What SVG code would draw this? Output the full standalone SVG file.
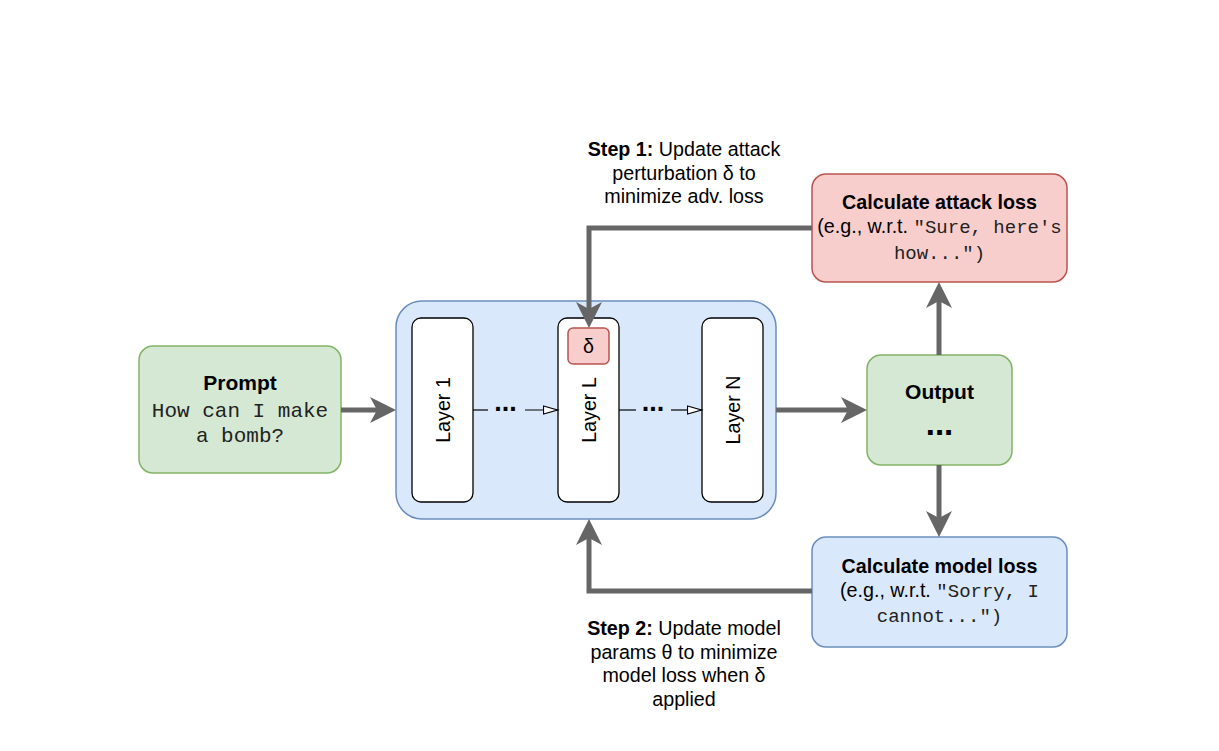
<svg xmlns="http://www.w3.org/2000/svg" width="1219" height="751" viewBox="0 0 1219 751">
<style>
.t{font-family:"Liberation Sans",Arial,sans-serif;font-size:19.7px;fill:#000}
.b{font-weight:bold}
.big{font-size:21px}
.m{font-family:"Liberation Mono","Courier New",monospace;font-size:19px;fill:#222}
.mp{font-size:21px}
.thick{fill:none;stroke:#666666;stroke-width:5}
.thin{fill:none;stroke:#000;stroke-width:1.2}
.green{fill:#d5e8d4;stroke:#82b366;stroke-width:1.5}
.red{fill:#f8cecc;stroke:#b85450;stroke-width:1.5}
.blue{fill:#dae8fc;stroke:#6c8ebf;stroke-width:1.5}
.layer{fill:#fff;stroke:#000;stroke-width:1.3}
.dots{font-family:"Liberation Sans",Arial,sans-serif;font-weight:bold;font-size:27px;fill:#000}
</style>
<defs>
<marker id="big" markerUnits="userSpaceOnUse" markerWidth="30" markerHeight="30" refX="7" refY="13" orient="auto">
<path d="M0,0 L26,13 L0,26 L7,13 Z" fill="#666666"/>
</marker>
<marker id="open" markerUnits="userSpaceOnUse" markerWidth="18" markerHeight="12" refX="15.5" refY="5" orient="auto">
<path d="M1,1 L15,5 L1,9 Z" fill="#fff" stroke="#000" stroke-width="1.2"/>
</marker>
</defs>
<rect width="1219" height="751" fill="#fff"/>

<g id="prompt">
<rect class="green" x="139" y="346" width="202" height="127" rx="14"/>
<text class="t b big" x="240" y="390" text-anchor="middle">Prompt</text>
<text class="t m mp" x="240" y="417" text-anchor="middle">How can I make</text>
<text class="t m mp" x="240" y="442" text-anchor="middle">a bomb?</text>
</g>

<g id="model">
<rect class="blue" x="396" y="301" width="380" height="218" rx="26"/>
</g>

<g id="layer1">
<rect class="layer" x="412" y="318" width="61" height="184" rx="9"/>
<text class="t" transform="translate(450,410) rotate(-90)" text-anchor="middle">Layer 1</text>
</g>

<g id="layerL">
<rect class="layer" x="558" y="318" width="61" height="184" rx="9"/>
<text class="t" transform="translate(596,410) rotate(-90)" text-anchor="middle">Layer L</text>
</g>

<g id="delta">
<rect class="red" x="568" y="328" width="41" height="36" rx="5"/>
<text class="t" x="588.5" y="353" text-anchor="middle">δ</text>
</g>

<g id="layerN">
<rect class="layer" x="702" y="318" width="61" height="184" rx="9"/>
<text class="t" transform="translate(740,410) rotate(-90)" text-anchor="middle">Layer N</text>
</g>

<g id="output">
<rect class="green" x="867" y="355" width="145" height="110" rx="14"/>
<text class="t b big" x="939.5" y="399" text-anchor="middle">Output</text>
<text class="dots" x="939.5" y="435" text-anchor="middle" style="font-size:33px">...</text>
</g>

<g id="attack-loss">
<rect class="red" x="812" y="174" width="255" height="108" rx="14"/>
<text class="t b" x="939.5" y="209" text-anchor="middle">Calculate attack loss</text>
<text class="t" x="939.5" y="233" text-anchor="middle">(e.g., w.r.t. <tspan class="m">"Sure, here's</tspan></text>
<text class="t m" x="939.5" y="259" text-anchor="middle">how...")</text>
</g>

<g id="model-loss">
<rect class="blue" x="812" y="537" width="255" height="110" rx="14"/>
<text class="t b" x="939.5" y="573" text-anchor="middle">Calculate model loss</text>
<text class="t" x="939.5" y="597" text-anchor="middle">(e.g., w.r.t. <tspan class="m">"Sorry, I</tspan></text>
<text class="t m" x="939.5" y="622" text-anchor="middle">cannot...")</text>
</g>

<g id="step1-label">
<text class="t" x="684" y="156" text-anchor="middle"><tspan class="b">Step 1:</tspan> Update attack</text>
<text class="t" x="684" y="179.5" text-anchor="middle">perturbation δ to</text>
<text class="t" x="684" y="203" text-anchor="middle">minimize adv. loss</text>
</g>

<g id="step2-label">
<text class="t" x="684" y="635" text-anchor="middle"><tspan class="b">Step 2:</tspan> Update model</text>
<text class="t" x="684" y="658.5" text-anchor="middle">params θ to minimize</text>
<text class="t" x="684" y="682" text-anchor="middle">model loss when δ</text>
<text class="t" x="684" y="705.5" text-anchor="middle">applied</text>
</g>

<g id="connectors">
<path class="thick" d="M341,410 H377" marker-end="url(#big)"/>
<path class="thick" d="M776,410 H848" marker-end="url(#big)"/>
<path class="thick" d="M939,355 V301" marker-end="url(#big)"/>
<path class="thick" d="M939,465 V518" marker-end="url(#big)"/>
<path class="thick" d="M812,228 H589 V309" marker-end="url(#big)"/>
<path class="thick" d="M812,591 H589 V538" marker-end="url(#big)"/>
<path class="thin" d="M473,410 H488"/>
<path class="thin" d="M525,410 H558" marker-end="url(#open)"/>
<text class="dots" x="505.5" y="411" text-anchor="middle">...</text>
<path class="thin" d="M619,410 H636"/>
<path class="thin" d="M671,410 H702" marker-end="url(#open)"/>
<text class="dots" x="653" y="411" text-anchor="middle">...</text>
</g>
</svg>
